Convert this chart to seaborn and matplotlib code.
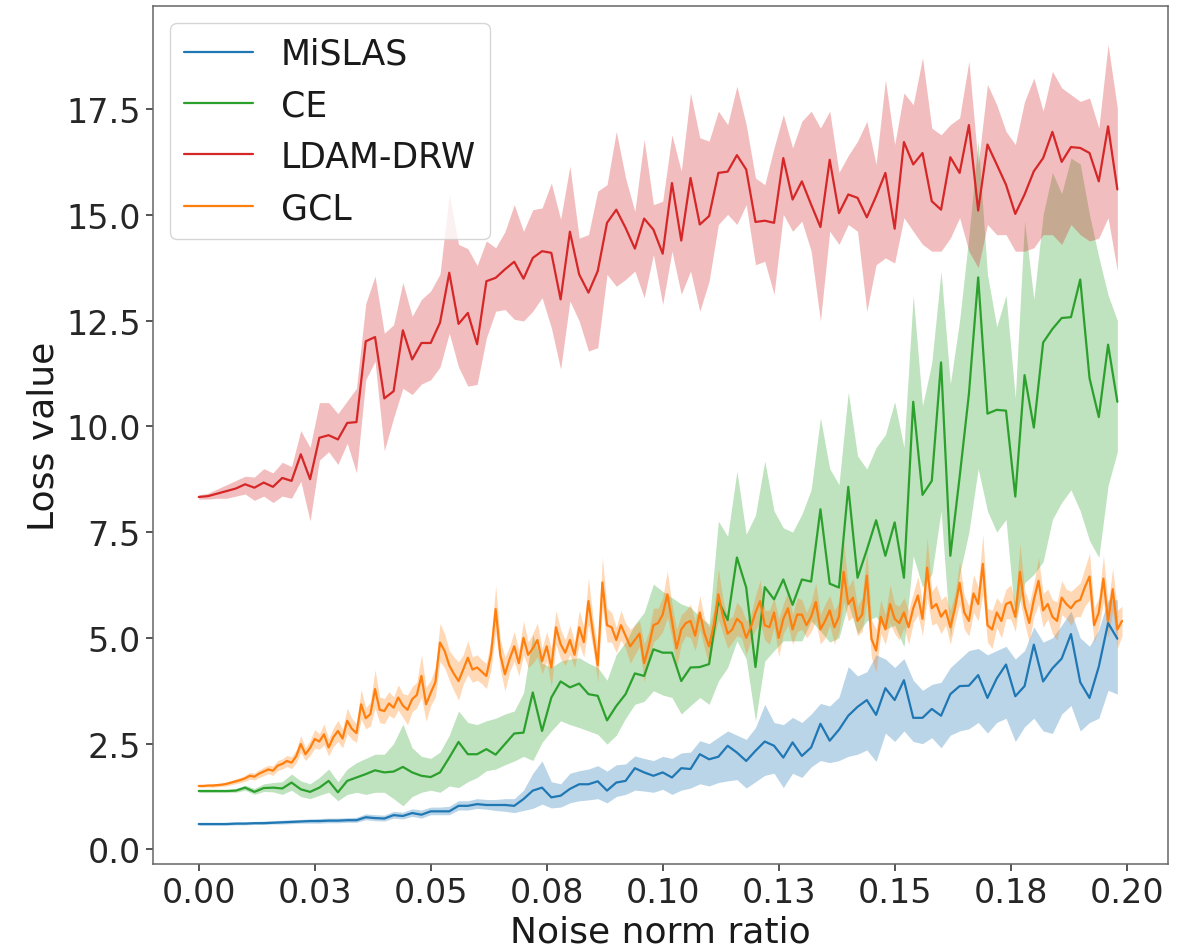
import numpy as np
import matplotlib
matplotlib.use('Agg')
import matplotlib.pyplot as plt
import seaborn as sns

# x grids (MiSLAS / CE / LDAM-DRW sampled every 0.002, GCL every 0.001)
ratio = np.round(np.arange(100) * 0.002, 3)
ratio_gcl = np.round(np.arange(200) * 0.001, 3)

xtick_pos = [0.0, 0.025, 0.05, 0.075, 0.1, 0.125, 0.15, 0.175, 0.2]
xtick_labels = ['0.00', '0.03', '0.05', '0.08', '0.10', '0.13', '0.15', '0.18', '0.20']

# ---------------- MiSLAS ----------------
mislas = [0.60, 0.60, 0.60, 0.60, 0.61, 0.61, 0.62, 0.62, 0.63, 0.64,
          0.65, 0.66, 0.67, 0.67, 0.68, 0.68, 0.69, 0.69, 0.76, 0.74,
          0.73, 0.81, 0.79, 0.86, 0.82, 0.90, 0.90, 0.90, 1.03, 1.03,
          1.07, 1.05, 1.05, 1.05,
          1.03, 1.19, 1.39, 1.46, 1.23, 1.27, 1.43, 1.54, 1.54, 1.61,
          1.39, 1.58, 1.62, 1.92, 1.82, 1.74, 1.82, 1.70, 1.92, 1.90,
          2.25, 2.13, 2.19, 2.45, 2.29, 2.09, 2.33, 2.55, 2.45, 2.17,
          2.53, 2.21, 2.41,
          2.97, 2.57, 2.83, 3.16, 3.37, 3.53, 3.18, 3.81, 3.53, 4.00,
          3.11, 3.11, 3.32, 3.16, 3.67, 3.86, 3.87, 4.12, 3.58, 4.04,
          4.37, 3.62, 3.86, 4.84, 3.97, 4.28, 4.51, 5.09, 3.95, 3.58,
          4.32, 5.35, 4.98]
mislas_lo = [0.57, 0.57, 0.57, 0.57, 0.58, 0.58, 0.59, 0.59, 0.60, 0.60,
             0.61, 0.62, 0.62, 0.62, 0.63, 0.63, 0.64, 0.64,
             0.70, 0.68, 0.67, 0.74, 0.72, 0.78, 0.74, 0.82, 0.82, 0.82,
             0.93, 0.93, 0.97, 0.95, 0.92, 0.90,
             0.87, 0.92, 0.97, 1.07, 0.98, 1.00, 1.10, 1.15, 1.17, 1.20,
             1.10, 1.25, 1.30, 1.40, 1.38, 1.35, 1.42, 1.30, 1.40, 1.45,
             1.55, 1.50, 1.58, 1.62, 1.65, 1.45, 1.60, 1.75, 1.80, 1.46,
             1.80, 1.70, 1.95,
             2.10, 2.05, 2.10, 2.20, 2.25, 2.35, 2.08, 2.75, 2.55, 2.80,
             2.55, 2.50, 2.64, 2.40, 2.70, 2.80, 2.85, 3.00, 2.75, 3.00,
             3.10, 2.55, 2.90, 3.10, 2.80, 2.74, 3.20, 3.40, 2.80, 3.00,
             3.10, 3.76, 3.67]
mislas_hi = [0.63, 0.63, 0.63, 0.64, 0.65, 0.65, 0.66, 0.67, 0.68, 0.69,
             0.70, 0.71, 0.72, 0.73, 0.74, 0.74, 0.75, 0.76,
             0.84, 0.82, 0.81, 0.90, 0.88, 0.96, 0.93, 1.00, 1.00, 1.02,
             1.15, 1.15, 1.20, 1.18, 1.18, 1.20,
             1.20, 1.40, 1.80, 2.09, 1.60, 1.55, 1.80, 1.86, 1.90, 1.98,
             1.85, 2.00, 2.02, 2.21, 2.15, 2.10, 2.20, 2.15, 2.28, 2.30,
             2.57, 2.50, 2.65, 2.80, 2.70, 2.60, 2.88, 3.43, 3.00, 2.95,
             3.12, 3.00, 3.20,
             3.45, 3.39, 3.60, 4.32, 4.10, 4.20, 4.60, 4.50, 4.30, 4.51,
             4.00, 3.76, 3.90, 3.95, 4.30, 4.50, 4.70, 4.75, 4.60, 4.70,
             4.80, 4.50, 4.70, 5.26, 4.90, 5.00, 5.30, 5.63, 5.00, 4.80,
             5.20, 5.90, 5.90]

# ---------------- CE ----------------
ce = [1.38, 1.38, 1.38, 1.38, 1.39, 1.46, 1.36, 1.45, 1.46, 1.44,
      1.58, 1.42, 1.36, 1.46, 1.62, 1.35, 1.62, 1.70, 1.78, 1.87,
      1.82, 1.84, 1.95, 1.82, 1.74, 1.71, 1.82, 2.17, 2.54, 2.25,
      2.25,
      2.37, 2.24, 2.49, 2.74, 2.76, 3.71, 2.80, 3.59, 3.97, 3.83,
      3.92, 3.67, 3.63, 3.05, 3.39, 3.67, 4.16, 4.10, 4.73, 4.65,
      4.65, 3.98, 4.30, 4.31, 4.38, 5.87, 5.42, 6.90, 6.19, 4.31,
      6.20, 5.91, 6.38, 5.78, 6.38, 6.33,
      8.04, 6.28, 6.19, 8.57, 6.42, 7.08, 7.78, 6.94, 7.73, 6.42,
      10.58, 8.38, 8.71, 11.51, 6.94, 8.80, 10.76, 13.52, 10.30, 10.39,
      10.37, 8.34, 11.21, 9.97, 11.98, 12.30, 12.56, 12.58, 13.47, 11.14,
      10.22, 11.93, 10.58]
ce_lo = [1.35, 1.35, 1.35, 1.35, 1.35, 1.40, 1.30, 1.37, 1.36, 1.30,
         1.40, 1.25, 1.20, 1.28, 1.35, 1.15, 1.30, 1.35, 1.30, 1.35,
         1.35, 1.20, 1.03, 1.25, 1.35, 1.40, 1.35, 1.50, 1.46, 1.60,
         1.70,
         1.86, 1.90, 2.00, 2.09, 2.20, 2.10, 2.53, 2.80, 3.04, 2.95,
         2.88, 2.80, 2.72, 2.49, 2.70, 3.10, 3.43, 3.50, 3.75, 3.65,
         3.59, 3.20, 3.40, 3.59, 3.43, 3.98, 4.30, 4.93, 4.50, 3.04,
         4.45, 4.70, 4.93, 4.93, 4.93, 5.40,
         5.16, 4.90, 5.00, 5.82, 5.10, 5.40, 5.50, 5.20, 5.30, 4.79,
         6.94, 6.20, 6.50, 8.00, 5.00, 6.50, 7.50, 9.00, 8.00, 7.50,
         7.80, 5.40, 6.30, 6.50, 6.80, 7.80, 8.20, 8.50, 8.00, 7.30,
         6.90, 8.60, 9.40]
ce_hi = [1.42, 1.42, 1.42, 1.42, 1.44, 1.52, 1.44, 1.55, 1.58, 1.60,
         1.78, 1.62, 1.55, 1.70, 1.90, 1.60, 1.90, 2.05, 2.15, 2.25,
         2.25, 2.50, 2.96, 2.40, 2.20, 2.15, 2.30, 2.70, 3.27, 3.00,
         2.95,
         3.04, 3.10, 3.20, 3.27, 3.70, 5.08, 4.40, 4.30, 4.45, 4.50,
         4.53, 4.40, 4.30, 4.00, 4.61, 4.90, 5.32, 5.60, 6.27, 6.10,
         5.95, 5.80, 5.72, 5.50, 5.32, 7.76, 7.40, 8.94, 7.45, 7.90,
         9.18, 8.00, 7.60, 7.50, 7.92, 8.50,
         10.20, 9.00, 8.62, 10.81, 9.30, 8.99, 9.50, 9.80, 10.58, 9.50,
         13.10, 10.48, 11.50, 13.67, 11.00, 12.50, 14.50, 16.74, 13.59, 12.35,
         13.10, 10.67, 14.85, 13.00, 15.00, 16.00, 15.50, 16.34, 16.20, 15.00,
         14.00, 13.10, 12.50]

# ---------------- LDAM-DRW ----------------
ldam = [8.33, 8.35, 8.41, 8.47, 8.53, 8.63, 8.55, 8.67, 8.57, 8.78,
        8.71, 9.34, 8.75, 9.73, 9.79, 9.69, 10.08, 10.10, 12.01, 12.11,
        10.66, 10.83, 12.27, 11.58, 11.97, 11.97, 12.45, 13.63, 12.42, 12.68,
        11.94,
        13.43, 13.51, 13.71, 13.89, 13.49, 13.98, 14.14, 14.10, 13.00, 14.60,
        13.59, 13.16, 13.67, 14.81, 15.12, 14.69, 14.20, 14.91, 14.65, 14.08,
        15.75, 14.39, 15.87, 14.77, 14.97, 15.99, 16.02, 16.41, 16.07, 14.83,
        14.86, 14.81, 16.34, 15.36,
        15.79, 15.24, 14.71, 16.30, 15.04, 15.48, 15.40, 14.94, 15.44, 15.99,
        14.67, 16.72, 16.19, 16.46, 15.32, 15.12, 16.36, 15.99, 17.12, 15.10,
        16.66, 16.19, 15.71, 15.02, 15.48, 16.03, 16.34, 16.96, 16.25, 16.60,
        16.58, 16.46, 15.79, 17.09, 15.60]
ldam_lo = [8.28, 8.28, 8.30, 8.30, 8.35, 8.40, 8.25, 8.35, 8.20, 8.35,
           8.30, 8.70, 7.76, 9.20, 9.40, 9.10, 9.60, 8.90, 11.10, 11.54,
           9.42, 10.20, 10.90, 10.75, 11.00, 11.10, 11.40, 12.20, 11.40, 10.95,
           10.99,
           12.09, 12.72, 12.76, 12.53, 12.49, 12.72, 13.04, 12.33, 11.35, 12.96,
           12.49, 11.78, 11.86, 13.59, 13.31, 13.47, 13.67, 13.04, 14.06, 12.88,
           14.14, 13.12, 13.67, 12.72, 13.43, 14.77, 15.01, 14.77, 15.24, 13.82,
           13.90, 13.12, 15.01, 14.61,
           14.85, 14.14, 12.49, 14.61, 14.30, 14.77, 14.61, 12.72, 13.82, 13.98,
           13.86, 14.93, 14.61, 14.30, 14.14, 14.14, 14.45, 14.93, 14.14, 13.75,
           14.77, 14.53, 14.53, 14.14, 14.14, 14.22, 14.53, 14.53, 14.30, 14.77,
           14.53, 14.38, 14.45, 14.93, 13.67]
ldam_hi = [8.38, 8.42, 8.52, 8.62, 8.72, 8.82, 8.80, 9.00, 8.90, 9.15,
           9.05, 9.90, 9.50, 10.56, 10.56, 10.30, 10.60, 10.90, 12.90, 13.55,
           12.20, 12.40, 13.40, 12.60, 13.00, 13.20, 13.60, 15.48, 14.30, 14.20,
           13.80,
           14.38, 14.22, 14.60, 15.24, 14.61, 15.12, 15.16, 15.75, 14.89, 16.15,
           14.45, 14.53, 15.56, 15.71, 16.97, 15.87, 15.08, 16.78, 15.24, 15.32,
           16.89, 16.03, 17.88, 16.82, 16.74, 17.45, 17.13, 18.04, 17.13, 15.87,
           15.71, 16.58, 17.37, 16.58,
           17.21, 17.45, 17.05, 17.45, 16.00, 16.40, 16.74, 17.21, 16.19, 18.19,
           16.66, 17.88, 17.60, 18.71, 17.05, 16.89, 17.13, 17.29, 18.63, 16.19,
           18.08, 17.60, 16.97, 16.66, 17.68, 18.23, 17.45, 18.39, 18.00, 17.84,
           17.68, 17.76, 17.05, 19.02, 17.52]

# ---------------- GCL (finer sampling) ----------------
gcl = [1.50, 1.50, 1.51, 1.51, 1.52, 1.53, 1.55, 1.58, 1.61, 1.64,
       1.68, 1.74, 1.72, 1.79, 1.84, 1.89, 1.86, 1.98, 2.02, 2.09,
       2.05, 2.20, 2.49, 2.25, 2.40, 2.61, 2.55, 2.72, 2.41, 2.65,
       2.80, 2.62, 3.04, 2.85, 2.75, 3.43, 3.10, 3.20, 3.79, 3.30,
       3.27, 3.45, 3.35, 3.59, 3.40, 3.30, 3.55, 3.65, 4.10, 3.43,
       3.70, 3.95, 4.89, 4.69, 4.35, 4.15, 3.98, 4.25, 4.53, 4.25,
       4.30, 4.20, 4.10, 4.61, 5.68, 4.60, 4.14, 4.50, 4.80, 4.40,
       5.00, 4.60, 4.75, 4.95, 4.45, 4.80, 4.30, 5.25, 4.85, 4.65,
       4.95, 4.60, 5.25, 4.90, 5.87, 5.10, 4.35, 6.31, 5.30, 5.25,
       4.95, 5.30, 5.05, 4.80, 4.95, 5.10, 4.40, 4.80, 5.30, 5.35,
       5.55, 6.03, 5.40, 4.75, 5.20, 5.35, 5.40, 5.05, 5.60, 5.10,
       4.80, 5.30, 6.03, 5.50, 5.10, 5.20, 5.45, 5.35, 5.00, 5.25,
       5.60, 5.87, 5.30, 5.25, 5.60, 5.00, 5.45, 5.70, 5.20, 5.55,
       5.55, 5.30, 5.50, 5.85, 5.20, 5.40, 5.65, 5.25, 5.50, 6.56,
       5.80, 5.95, 5.40, 5.55, 6.47, 4.98, 4.70, 5.50, 5.20, 5.80,
       5.45, 5.35, 5.60, 5.25, 5.70, 6.00, 5.45, 6.66, 5.70, 5.80,
       5.50, 5.65, 5.25, 5.70, 6.30, 5.60, 5.40, 6.05, 5.80, 6.75,
       5.30, 5.20, 5.60, 5.40, 5.80, 5.85, 5.50, 6.56, 5.75, 5.35,
       5.90, 6.35, 5.65, 5.80, 5.50, 5.40, 5.95, 5.80, 5.70, 5.85,
       5.90, 6.20, 6.45, 5.30, 5.60, 6.40, 5.40, 6.15, 5.20, 5.40]
gcl_err = [0.03, 0.03, 0.03, 0.04, 0.04, 0.04, 0.05, 0.05, 0.06, 0.06,
           0.07, 0.08, 0.08, 0.09, 0.10, 0.10, 0.11, 0.12, 0.12, 0.13,
           0.14, 0.15, 0.20, 0.15, 0.18, 0.22, 0.18, 0.25, 0.20, 0.22,
           0.25, 0.22, 0.30, 0.25, 0.22, 0.35, 0.25, 0.28, 0.45, 0.30,
           0.30, 0.28, 0.25, 0.30, 0.28, 0.35, 0.30, 0.30, 0.50, 0.40,
           0.30, 0.35, 0.45, 0.40, 0.35, 0.40, 0.45, 0.35, 0.40, 0.30,
           0.30, 0.28, 0.30, 0.35, 0.55, 0.35, 0.40, 0.30, 0.35, 0.30,
           0.40, 0.30, 0.35, 0.40, 0.30, 0.35, 0.45, 0.40, 0.35, 0.30,
           0.35, 0.30, 0.40, 0.35, 0.55, 0.35, 0.40, 0.60, 0.40, 0.35,
           0.30, 0.35, 0.30, 0.40, 0.35, 0.30, 0.45, 0.35, 0.40, 0.35,
           0.40, 0.55, 0.40, 0.45, 0.35, 0.30, 0.40, 0.35, 0.40, 0.35,
           0.45, 0.35, 0.60, 0.40, 0.35, 0.30, 0.40, 0.35, 0.40, 0.30,
           0.40, 0.50, 0.35, 0.40, 0.35, 0.45, 0.35, 0.40, 0.35, 0.40,
           0.35, 0.30, 0.35, 0.45, 0.35, 0.40, 0.35, 0.40, 0.35, 0.70,
           0.40, 0.45, 0.35, 0.40, 0.60, 0.45, 0.50, 0.40, 0.35, 0.45,
           0.35, 0.40, 0.35, 0.40, 0.35, 0.45, 0.40, 0.70, 0.40, 0.45,
           0.40, 0.35, 0.40, 0.35, 0.50, 0.40, 0.35, 0.45, 0.40, 0.70,
           0.40, 0.45, 0.35, 0.40, 0.35, 0.40, 0.35, 0.65, 0.40, 0.45,
           0.40, 0.55, 0.40, 0.35, 0.40, 0.45, 0.40, 0.35, 0.40, 0.35,
           0.40, 0.45, 0.55, 0.40, 0.35, 0.55, 0.40, 0.50, 0.45, 0.35]

gcl_lo = np.array(gcl) - np.array(gcl_err)
gcl_hi = np.array(gcl) + np.array(gcl_err)

# ---------------- plot ----------------
sns.set_style('ticks', {'axes.edgecolor': '0.4', 'xtick.color': '0.15',
                        'ytick.color': '0.15', 'text.color': '0.1',
                        'axes.labelcolor': '0.1'})
plt.rcParams['font.family'] = ['DejaVu Sans']

fig, ax = plt.subplots(figsize=(11.92, 9.53), dpi=100)
fig.subplots_adjust(left=0.128, right=0.980, bottom=0.092, top=0.993)

series = [
    ('MiSLAS', ratio, mislas, mislas_lo, mislas_hi, '#1f77b4'),
    ('CE', ratio, ce, ce_lo, ce_hi, '#2ca02c'),
    ('LDAM-DRW', ratio, ldam, ldam_lo, ldam_hi, '#d62728'),
    ('GCL', ratio_gcl, gcl, gcl_lo, gcl_hi, '#ff7f0e'),
]

for name, xs, ys, lo, hi, col in series:
    ax.fill_between(xs, lo, hi, color=col, alpha=0.3, linewidth=0)
    sns.lineplot(x=xs, y=ys, color=col, label=name, linewidth=1.6,
                 errorbar=None, ax=ax)

ax.set_xticks(xtick_pos)
ax.set_xticklabels(xtick_labels)
ax.tick_params(axis='both', labelsize=24, length=5, width=1.1)
for sp in ax.spines.values():
    sp.set_linewidth(1.1)

ax.set_xlabel('Noise norm ratio', fontsize=26)
ax.set_ylabel('Loss value', fontsize=26)

ax.legend(loc='upper left', fontsize=25, frameon=True)

fig.savefig('out.png', dpi=100)
